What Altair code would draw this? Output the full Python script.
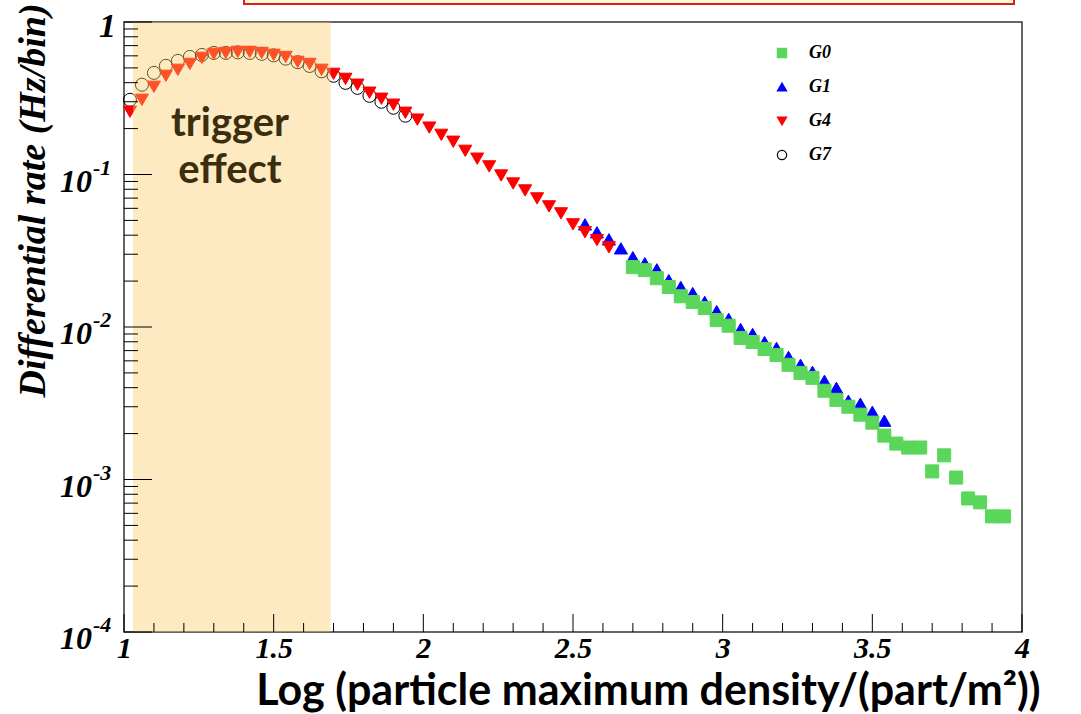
import altair as alt
import pandas as pd

# ---------------- data ----------------
bin_centers = [
    1.02, 1.06, 1.10, 1.14, 1.18, 1.22, 1.26, 1.30, 1.34, 1.38,
    1.42, 1.46, 1.50, 1.54, 1.58, 1.62, 1.66, 1.70, 1.74, 1.78,
    1.82, 1.86, 1.90, 1.94, 1.98, 2.02, 2.06, 2.10, 2.14, 2.18,
    2.22, 2.26, 2.30, 2.34, 2.38, 2.42, 2.46, 2.50, 2.54, 2.58,
    2.62, 2.66, 2.70, 2.74, 2.78, 2.82, 2.86, 2.90, 2.94, 2.98,
    3.02, 3.06, 3.10, 3.14, 3.18, 3.22, 3.26, 3.30, 3.34, 3.38,
    3.42, 3.46, 3.50, 3.54, 3.58, 3.62, 3.66, 3.70, 3.74, 3.78,
    3.82, 3.86, 3.90, 3.94,
]

g7_first_bin = 0
g7_rate = [0.309, 0.388, 0.464, 0.516, 0.556, 0.590, 0.608, 0.627, 0.627, 0.632,
           0.627, 0.618, 0.604, 0.575, 0.545, 0.515, 0.475, 0.444, 0.399, 0.370,
           0.328, 0.300, 0.274, 0.243]

g4_first_bin = 0
g4_rate = [0.258, 0.309, 0.376, 0.444, 0.486, 0.531, 0.582, 0.618, 0.627, 0.637,
           0.637, 0.627, 0.609, 0.590, 0.548, 0.531, 0.486, 0.457, 0.424, 0.388,
           0.344, 0.314, 0.287, 0.254, 0.229, 0.203, 0.182, 0.164, 0.143, 0.127,
           0.113, 0.0985, 0.0873, 0.0786, 0.0697, 0.0618, 0.0556, 0.0471, 0.0418, 0.0371,
           0.0333]

g1_first_bin = 38
g1_rate = [0.0471, 0.0418, 0.0376, 0.0328, 0.0287, 0.0262, 0.0239, 0.0203, 0.0183, 0.0167,
           0.0146, 0.0127, 0.0113, 0.0097, 0.0090, 0.00797, 0.00729, 0.00637, 0.00565, 0.00508,
           0.00444, 0.00399, 0.00328, 0.00314, 0.00278, 0.00243]

g0_first_bin = 42
g0_rate = [0.0247, 0.0236, 0.0209, 0.0183, 0.0159, 0.0146, 0.0133, 0.0111, 0.0102, 0.00848,
           0.00797, 0.00718, 0.00656, 0.00565, 0.00500, 0.00464, 0.00382, 0.00333, 0.00300, 0.00266,
           0.00236, 0.00194, 0.00172, 0.00162, 0.00162, 0.00113, 0.00144, 0.00103, 0.000751, 0.000708,
           0.000573, 0.000573]

series_names = ["G0", "G1", "G4", "G7"]
series_shapes = ["square", "triangle-up", "triangle-down", "circle"]
series_fill = ["#5AD65A", "#0000FF", "#FF0000", "transparent"]
series_stroke = ["#5AD65A", "#0000FF", "#FF0000", "#000000"]

x_tick_labels = [1, 1.5, 2, 2.5, 3, 3.5, 4]
x_minor_ticks = [1.1, 1.2, 1.3, 1.4, 1.6, 1.7, 1.8, 1.9, 2.1, 2.2, 2.3, 2.4,
                 2.6, 2.7, 2.8, 2.9, 3.1, 3.2, 3.3, 3.4, 3.6, 3.7, 3.8, 3.9]
y_decades = [1, 0.1, 0.01, 0.001, 0.0001]
y_minor_ticks = [k * d for d in [0.0001, 0.001, 0.01, 0.1] for k in range(2, 10)]
y_label_base = ["10", "10", "10", "10"]
y_label_exp = ["-1", "-2", "-3", "-4"]
trigger_range = [1.03, 1.69]
annotation_lines = ["trigger", "effect"]

# ---------------- build table ----------------
rows = []
for name, first, rates in [("G7", g7_first_bin, g7_rate), ("G1", g1_first_bin, g1_rate),
                           ("G4", g4_first_bin, g4_rate), ("G0", g0_first_bin, g0_rate)]:
    for i, r in enumerate(rates):
        rows.append({"x": bin_centers[first + i], "rate": r, "series": name})
df = pd.DataFrame(rows)

W, H = 898, 610
xs = alt.Scale(domain=[1, 4], nice=False, zero=False)
ys = alt.Scale(type="log", domain=[0.0001, 1], nice=False)

SERIF = "Liberation Serif"

legend = alt.Legend(
    title=None, orient="none", legendX=649, legendY=22, direction="vertical",
    labelFont=SERIF, labelFontSize=18, labelFontStyle="italic", labelFontWeight="bold",
    labelColor="black", symbolSize=85, rowPadding=16, labelOffset=18, padding=0,
    symbolStrokeWidth=1.2,
)

points = alt.Chart(df).mark_point(opacity=1, size=170, strokeWidth=1).encode(
    x=alt.X("x:Q", scale=xs, axis=alt.Axis(
        values=x_tick_labels, format="~g", ticks=False, domain=False, grid=False,
        labelFont=SERIF, labelFontSize=30, labelFontStyle="italic", labelFontWeight="bold",
        labelColor="black", labelPadding=1, labelFlush=False, labelOverlap=False,
        title="Log (particle maximum density/(part/m²))", titleFont="Lato",
        titleFontSize=43, titleFontWeight="bold", titleColor="black",
        titleX=524, titleY=59, titleAlign="center", titleBaseline="middle")),
    y=alt.Y("rate:Q", scale=ys, axis=alt.Axis(
        labels=False, ticks=False, domain=False, grid=False,
        title="Differential rate (Hz/bin)", titleFont=SERIF, titleFontSize=38,
        titleFontStyle="italic", titleFontWeight="bold", titleColor="black",
        titleX=-91, titleY=178, titleAlign="center", titleBaseline="middle", titleAngle=270)),
    shape=alt.Shape("series:N", scale=alt.Scale(domain=series_names, range=series_shapes), legend=legend),
    fill=alt.Fill("series:N", scale=alt.Scale(domain=series_names, range=series_fill), legend=legend),
    stroke=alt.Stroke("series:N", scale=alt.Scale(domain=series_names, range=series_stroke), legend=legend),
)

shade = alt.Chart(pd.DataFrame({"x0": [trigger_range[0]], "x1": [trigger_range[1]]})).mark_rect(
    color="#F9CB62", opacity=0.4
).encode(x=alt.X("x0:Q", scale=xs, axis=None), x2="x1:Q", y=alt.value(0), y2=alt.value(H))

y_major = alt.Chart(pd.DataFrame({"v": y_decades})).mark_rule(color="black", strokeWidth=1).encode(
    y=alt.Y("v:Q", scale=ys, axis=None), x=alt.value(0), x2=alt.value(28))
y_minor = alt.Chart(pd.DataFrame({"v": y_minor_ticks})).mark_rule(color="black", strokeWidth=1).encode(
    y=alt.Y("v:Q", scale=ys, axis=None), x=alt.value(0), x2=alt.value(14))
x_major = alt.Chart(pd.DataFrame({"v": x_tick_labels})).mark_rule(color="black", strokeWidth=1).encode(
    x=alt.X("v:Q", scale=xs, axis=None), y=alt.value(H), y2=alt.value(H - 18))
x_minor = alt.Chart(pd.DataFrame({"v": x_minor_ticks})).mark_rule(color="black", strokeWidth=1).encode(
    x=alt.X("v:Q", scale=xs, axis=None), y=alt.value(H), y2=alt.value(H - 9))

one_label = alt.Chart(pd.DataFrame({"v": [1], "t": ["1"]})).mark_text(
    font=SERIF, fontSize=34, fontStyle="italic", fontWeight="bold", align="right",
    baseline="middle", dy=5, color="black"
).encode(y=alt.Y("v:Q", scale=ys, axis=None), x=alt.value(-8), text="t:N")
base_label = alt.Chart(pd.DataFrame({"v": y_decades[1:], "t": y_label_base})).mark_text(
    font=SERIF, fontSize=32, fontStyle="italic", fontWeight="bold", align="right",
    baseline="middle", dy=7, color="black"
).encode(y=alt.Y("v:Q", scale=ys, axis=None), x=alt.value(-32), text="t:N")
exp_label = alt.Chart(pd.DataFrame({"v": y_decades[1:], "t": y_label_exp})).mark_text(
    font=SERIF, fontSize=22, fontStyle="italic", fontWeight="bold", align="left",
    baseline="middle", dy=-7, dx=1, color="black"
).encode(y=alt.Y("v:Q", scale=ys, axis=None), x=alt.value(-32), text="t:N")

trig1 = alt.Chart(pd.DataFrame({"t": [annotation_lines[0]]})).mark_text(
    font="Lato", fontSize=40, fontWeight="bold", color="#3B2E0E", align="center", baseline="middle"
).encode(x=alt.value(106), y=alt.value(102), text="t:N")
trig2 = alt.Chart(pd.DataFrame({"t": [annotation_lines[1]]})).mark_text(
    font="Lato", fontSize=40, fontWeight="bold", color="#3B2E0E", align="center", baseline="middle"
).encode(x=alt.value(106), y=alt.value(149), text="t:N")

redbox = alt.Chart(pd.DataFrame({"a": [0]})).mark_rect(
    fill="#FFF9D6", stroke="#D91E1E", strokeWidth=2
).encode(x=alt.value(120), x2=alt.value(890), y=alt.value(-40), y2=alt.value(-18))

chart = alt.layer(
    points, shade, y_minor, y_major, x_minor, x_major,
    one_label, base_label, exp_label, trig1, trig2, redbox
).resolve_axis(x="independent", y="independent").properties(
    width=W, height=H,
    autosize=alt.AutoSizeParams(type="none"),
    padding={"left": 124, "top": 22, "right": 59, "bottom": 82},
    background="white",
).configure_view(stroke="#333333", strokeWidth=1.5)

chart.save("out.html", embed_options={"renderer": "svg", "actions": False})
